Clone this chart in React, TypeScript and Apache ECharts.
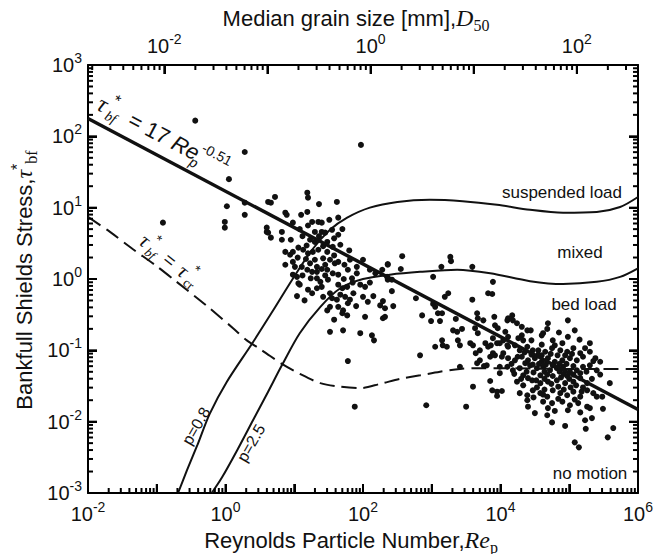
import { useEffect, useRef } from "react";
import * as echarts from "echarts";

// ---------- axis ranges ----------
const RE_MIN = 0.01;
const RE_MAX = 1e6;
const TAU_MIN = 1e-3;
const TAU_MAX = 1e3;
// log10(Re_p) that corresponds to D50 = 1 mm (top axis), and Re decades per D decade
const LOG_RE_AT_D_1MM = 2.11;
const RE_PER_D_DECADE = 1.5;

// tick label exponents
const xMajorExp = [-2, -1, 0, 1, 2, 3, 4, 5, 6];
const xLabelExp = [-2, 0, 2, 4, 6];
const yMajorExp = [-3, -2, -1, 0, 1, 2, 3];
const dMajorExp = [-2, -1, 0, 1, 2];
const dLabelExp = [-2, 0, 2];

// ---------- data (log10 Re_p, log10 tau*_bf) ----------
const observed: [number, number][] = [
  [-0.44, 2.22], [0.28, 1.78], [1.97, 1.88], [0.05, 1.4], [0.02, 1.02], [0.28, 1.07], [0.28, 0.9], [-0.01, 0.8], [-0.01, 0.72], [-0.91, 0.79],
  [0.72, 1.15], [0.62, 1.08], [0.66, 1.07], [1.19, 1.21], [1.2, 1.14], [1.36, 1.05], [1.62, 1.08], [1.19, 0.94], [0.87, 0.93], [0.89, 0.9],
  [0.98, 0.79], [0.6, 0.72], [0.6, 0.66], [0.62, 0.65], [0.66, 0.58], [0.82, 0.66], [0.82, 0.55], [1.08, 0.7], [1.26, 0.8], [1.35, 0.8],
  [1.4, 0.79], [1.51, 0.83], [1.64, 0.86], [1.3, 0.66], [1.4, 0.66], [1.45, 0.65], [1.55, 0.69], [1.64, 0.62], [1.23, 0.55], [1.3, 0.52],
  [1.48, 0.52], [0.87, 0.38], [0.94, 0.34], [0.98, 0.38], [1.06, 0.44], [1.13, 0.41], [1.2, 0.36], [1.27, 0.38], [1.35, 0.41], [1.48, 0.38],
  [1.56, 0.45], [1.67, 0.48], [0.87, 0.2], [0.98, 0.24], [1.01, 0.17], [1.11, 0.17], [1.23, 0.22], [1.3, 0.27], [1.33, 0.17], [1.42, 0.29],
  [1.52, 0.27], [1.59, 0.22], [1.64, 0.24], [1.81, 0.27], [1.91, 0.17], [2.0, 0.27], [0.98, 0.06], [1.04, 0.03], [1.19, 0.13], [1.26, 0.1],
  [1.33, 0.1], [1.4, 0.14], [1.48, 0.13], [1.56, 0.08], [1.64, 0.06], [1.78, 0.13], [1.84, 0.01], [1.91, 0.08], [2.1, 0.13], [2.18, 0.08],
  [2.28, 0.13], [2.35, 0.03], [2.36, 0.2], [1.06, -0.06], [1.08, -0.08], [1.33, 0.01], [1.38, -0.04], [1.4, -0.11], [1.49, -0.01], [1.64, -0.08],
  [1.7, -0.13], [1.77, -0.11], [1.96, -0.08], [2.03, -0.11], [1.2, -0.15], [1.26, -0.2], [1.33, -0.13], [1.04, -0.24], [1.55, -0.27], [1.62, -0.29],
  [1.67, -0.22], [1.74, -0.25], [1.81, -0.29], [1.86, -0.2], [2.0, -0.25], [2.07, -0.32], [2.15, -0.24], [2.25, -0.37], [2.32, -0.41], [1.64, -0.39],
  [1.71, -0.44], [1.78, -0.34], [1.52, -0.39], [1.48, -0.44], [1.7, -0.48], [1.77, -0.51], [2.03, -0.53], [2.29, -0.55], [1.52, -0.2], [1.52, -0.74],
  [1.71, -0.72], [1.78, -1.15],
  [1.12, 0.6], [1.18, 0.47], [1.36, 0.6], [1.42, 0.46], [1.58, 0.57], [1.7, 0.7], [1.05, 0.3], [1.17, 0.28], [1.45, 0.2], [1.58, 0.33],
  [1.73, 0.2], [1.12, 0.05], [1.24, 0.01], [1.45, 0.05], [1.72, 0.0], [1.85, -0.05], [1.15, -0.3], [1.42, -0.25], [1.9, -0.38], [1.58, -0.57],
  [1.2, 0.75], [1.1, 0.9], [0.95, 0.55], [1.8, 0.4], [2.1, -0.05],
  [2.57, 0.32], [2.36, 0.21], [2.55, 0.14], [3.27, 0.31], [3.28, 0.25], [3.14, 0.17], [3.59, 0.17], [2.36, -0.01], [2.42, -0.01], [3.02, 0.03],
  [3.89, -0.04], [2.29, -0.31], [2.42, -0.17], [2.44, -0.38], [2.32, -0.53], [2.77, -0.27], [3.19, -0.25], [3.24, -0.2], [3.82, -0.2], [3.88, -0.21],
  [3.59, -0.29], [3.02, -0.35], [3.05, -0.39], [2.86, -0.51], [2.99, -0.59], [3.09, -0.48], [3.15, -0.48], [3.12, -0.59], [3.35, -0.56], [3.66, -0.48],
  [3.67, -0.55], [3.75, -0.58], [3.91, -0.53], [4.1, -0.58], [3.31, -0.72], [3.37, -0.74], [3.44, -0.7], [3.63, -0.69], [3.67, -0.76], [3.38, -0.86],
  [3.15, -0.86], [3.16, -0.93], [3.22, -0.95], [3.41, -0.93], [3.56, -0.9], [3.6, -0.93], [3.78, -0.9], [3.82, -0.95], [3.86, -0.93], [3.7, -1.0],
  [3.05, -0.95], [2.83, -1.07], [2.13, -0.79], [2.16, -0.86], [3.85, -1.09], [3.89, -1.04], [3.99, -0.9], [4.04, -0.86], [4.1, -0.93], [4.04, -1.04],
  [3.41, -1.23], [3.8, -1.21], [3.99, -1.23],
  [1.96, -0.76], [3.64, -1.04], [3.7, -1.14], [3.66, -1.18], [3.76, -1.22], [3.6, -1.51], [3.85, -1.43], [3.88, -1.56], [3.95, -1.58], [3.95, -1.64],
  [1.88, -1.79], [2.92, -1.77], [3.5, -1.79],
  [4.98, -0.58], [4.69, -0.62], [4.17, -0.51], [4.11, -0.55], [4.18, -0.58], [4.24, -0.62], [4.31, -0.67], [4.39, -0.72], [4.44, -0.72], [4.62, -0.76],
  [4.6, -0.79], [5.08, -0.72], [3.92, -0.65], [3.96, -0.69], [4.07, -0.74], [4.11, -0.81], [4.31, -0.79], [4.33, -0.86], [4.26, -0.83], [4.76, -0.86],
  [4.79, -0.93], [4.98, -0.81], [3.89, -0.83], [3.95, -0.9], [4.11, -0.95], [4.21, -0.93], [4.28, -1.0], [4.39, -0.95], [4.47, -1.0], [4.55, -1.0],
  [4.65, -1.02], [4.75, -0.97], [4.87, -1.0], [4.97, -1.02], [5.06, -0.97], [5.16, -1.04], [5.23, -0.97], [5.3, -1.02], [5.38, -1.11], [5.45, -1.16],
  [5.2, -1.09], [5.11, -1.14], [5.01, -1.11],
  [3.92, -1.07], [4.02, -1.09], [4.11, -1.11], [4.21, -1.14], [4.31, -1.09], [4.4, -1.14], [4.5, -1.11], [4.6, -1.16], [4.69, -1.11], [4.79, -1.16],
  [4.9, -1.14], [4.43, -1.21], [4.53, -1.25], [4.62, -1.23], [4.72, -1.28], [4.82, -1.25], [4.91, -1.23], [5.01, -1.3], [5.11, -1.28], [4.1, -1.23],
  [4.18, -1.28], [4.28, -1.25], [3.99, -1.32], [4.33, -1.35], [4.58, -1.35], [4.76, -1.36], [4.97, -1.36], [5.2, -1.23], [5.3, -1.21], [5.4, -1.28],
  [4.24, -1.44], [4.33, -1.49], [4.46, -1.42], [4.58, -1.46], [4.69, -1.44], [4.82, -1.42], [4.94, -1.46], [5.06, -1.44], [5.16, -1.39], [5.26, -1.46],
  [4.02, -1.57], [4.28, -1.6], [4.39, -1.63], [4.47, -1.56], [4.58, -1.6], [4.68, -1.65], [4.76, -1.56], [4.87, -1.6], [4.97, -1.63], [5.06, -1.58],
  [5.16, -1.65], [5.26, -1.56], [5.35, -1.6], [5.4, -1.65], [4.39, -1.7], [4.62, -1.72], [4.75, -1.74], [4.9, -1.72], [5.01, -1.77], [5.13, -1.74],
  [5.26, -1.79], [4.4, -1.79], [4.5, -1.88], [4.69, -1.81], [4.79, -1.85], [4.98, -1.84], [5.16, -1.87], [5.3, -1.81], [4.68, -1.91], [5.33, -1.95],
  [5.23, -1.98], [5.49, -1.82], [4.75, -2.01], [4.94, -2.06], [5.24, -2.1], [5.64, -2.09], [5.56, -2.22], [5.08, -2.29], [5.14, -2.36],
  [5.59, -1.46], [5.48, -1.65],
  [4.36, -1.18], [4.47, -1.2], [4.56, -1.19], [4.66, -1.2], [4.76, -1.21], [4.86, -1.19], [4.96, -1.19], [5.06, -1.22], [4.38, -1.3], [4.48, -1.31],
  [4.64, -1.3], [4.68, -1.34], [4.86, -1.3], [4.92, -1.33], [5.06, -1.34], [5.16, -1.32], [4.4, -1.39], [4.52, -1.42], [4.64, -1.4], [4.74, -1.47],
  [4.88, -1.38], [5.0, -1.4], [5.1, -1.49], [4.3, -1.4], [4.53, -1.52], [4.64, -1.55], [4.84, -1.51], [4.92, -1.55], [5.02, -1.52], [5.2, -1.52],
  [4.45, -1.06], [4.55, -1.06], [4.6, -1.07], [4.73, -1.05], [4.83, -1.07], [4.94, -1.07], [5.04, -1.05], [4.35, -1.03], [4.25, -1.09], [4.16, -1.19],
  [4.2, -1.33], [4.48, -1.66], [4.62, -1.62], [4.84, -1.68], [5.08, -1.69], [5.18, -1.58], [5.33, -1.4], [5.45, -1.34], [5.25, -1.3], [5.35, -1.15],
  [4.9, -0.9], [4.6, -0.92], [4.45, -0.86], [4.68, -0.7], [4.85, -0.75], [5.15, -0.85], [5.3, -0.9],
];

// fit line tau*_bf = 17 Re_p^-0.51 (end points: Re_p, tau)
const fitLineRe = [0.01, 1e6];
const fitLineTau = [178, 0.0148];

// critical Shields stress curve (dashed), log10 values
const criticalCurve: [number, number][] = [
  [-2.0, 0.87], [-1.68, 0.66], [-1.35, 0.42], [-1.03, 0.2], [-0.71, -0.04], [-0.41, -0.27], [-0.23, -0.41], [0.11, -0.69],
  [0.31, -0.86], [0.5, -0.98], [0.65, -1.08], [0.82, -1.19], [1.08, -1.33], [1.38, -1.46], [1.67, -1.51], [1.96, -1.53],
  [2.25, -1.47], [2.54, -1.4], [2.83, -1.35], [3.12, -1.3], [3.41, -1.26], [3.7, -1.25], [3.99, -1.25], [4.87, -1.26], [6.0, -1.26],
];

// threshold p = 0.8 (suspended load boundary), log10 values
const curveP08: [number, number][] = [
  [-0.69, -3.0], [-0.56, -2.68], [-0.41, -2.33], [-0.23, -1.89], [0.02, -1.44], [0.39, -0.9], [0.68, -0.46], [0.97, -0.01],
  [1.26, 0.41], [1.52, 0.69], [1.77, 0.86], [2.1, 1.0], [2.5, 1.08], [2.97, 1.11], [3.45, 1.09], [3.95, 1.04], [4.43, 0.97],
  [4.91, 0.93], [5.4, 0.94], [5.74, 1.01], [6.0, 1.15],
];

// threshold p = 2.5 (bed load boundary), log10 values
const curveP25: [number, number][] = [
  [-0.2, -3.0], [-0.05, -2.78], [0.17, -2.4], [0.4, -1.98], [0.62, -1.58], [0.82, -1.21], [1.08, -0.76], [1.38, -0.39],
  [1.67, -0.13], [2.0, 0.0], [2.39, 0.06], [2.83, 0.1], [3.37, 0.13], [3.85, 0.08], [4.43, -0.03], [4.91, -0.07],
  [5.4, -0.04], [5.74, 0.03], [6.0, 0.15],
];

const SANS = "'Liberation Sans', Arial, Helvetica, sans-serif";
const SERIF = "'Liberation Serif', 'DejaVu Serif', 'Times New Roman', serif";
const INK = "#000000";
const MAJOR_LEN = 9;
const MINOR_LEN = 5;
const TICK_W = 2;

const toVal = (pts: [number, number][]) => pts.map(([a, b]) => [Math.pow(10, a), Math.pow(10, b)]);

function minorTicks(lo: number, hi: number): number[] {
  const out: number[] = [];
  for (let n = Math.floor(lo) - 1; n <= Math.ceil(hi); n++) {
    for (let k = 2; k <= 9; k++) {
      const v = n + Math.log10(k);
      if (v > lo + 1e-9 && v < hi - 1e-9) out.push(v);
    }
  }
  return out;
}

const tickList = (major: number[], lo: number, hi: number): [number, number][] => [
  ...major.map((v) => [v, MAJOR_LEN] as [number, number]),
  ...minorTicks(lo, hi).map((v) => [v, MINOR_LEN] as [number, number]),
];

const tickRich = {
  b: { fontSize: 20, fontFamily: SANS, color: "#111", lineHeight: 28 },
  e: { fontSize: 14, fontFamily: SANS, color: "#111", lineHeight: 14, verticalAlign: "top" },
};
const expFormatter = (v: number) => `{b|10}{e|${Math.round(v)}}`;

function labelAxis(position: string, min: number, max: number, majors: number[], labels: number[] | null, margin: number) {
  return {
    type: "value",
    position,
    min,
    max,
    splitLine: { show: false },
    axisLine: { show: true, onZero: false, lineStyle: { color: INK, width: 2 } },
    axisTick: {
      show: true,
      inside: true,
      length: MAJOR_LEN,
      customValues: majors,
      lineStyle: { color: INK, width: TICK_W },
    },
    axisLabel: labels
      ? { show: true, customValues: labels, formatter: expFormatter, rich: tickRich, margin }
      : { show: false },
  };
}

// tick marks (major + minor) drawn as thin rectangles placed by the log axes
function tickMarks(name: string, items: any[]) {
  return {
    type: "scatter",
    name,
    data: items,
    symbol: "rect",
    clip: false,
    itemStyle: { color: INK, opacity: 1 },
    z: 6,
  };
}

function buildOption() {
  const dMin = (-2 - LOG_RE_AT_D_1MM) / RE_PER_D_DECADE;
  const dMax = (6 - LOG_RE_AT_D_1MM) / RE_PER_D_DECADE;

  const xAxis: any[] = [
    { type: "log", logBase: 10, min: RE_MIN, max: RE_MAX, show: false, splitLine: { show: false } },
    labelAxis("bottom", -2, 6, xMajorExp, xLabelExp, 7),
    labelAxis("top", dMin, dMax, dMajorExp, dLabelExp, 5),
  ];
  const yAxis: any[] = [
    { type: "log", logBase: 10, min: TAU_MIN, max: TAU_MAX, show: false, splitLine: { show: false } },
    labelAxis("left", -3, 3, yMajorExp, yMajorExp, 6),
    labelAxis("right", -3, 3, yMajorExp, null, 0),
  ];

  const bottomTicks = tickList(xMajorExp, -2, 6).map(([v, len]) => ({
    value: [Math.pow(10, v), TAU_MIN],
    symbolSize: [TICK_W, len],
    symbolOffset: [0, -len / 2],
  }));
  const topTicks = tickList(dMajorExp, dMin, dMax).map(([d, len]) => ({
    value: [Math.pow(10, LOG_RE_AT_D_1MM + RE_PER_D_DECADE * d), TAU_MAX],
    symbolSize: [TICK_W, len],
    symbolOffset: [0, len / 2],
  }));
  const leftTicks = tickList(yMajorExp, -3, 3).map(([v, len]) => ({
    value: [RE_MIN, Math.pow(10, v)],
    symbolSize: [len, TICK_W],
    symbolOffset: [len / 2, 0],
  }));
  const rightTicks = tickList(yMajorExp, -3, 3).map(([v, len]) => ({
    value: [RE_MAX, Math.pow(10, v)],
    symbolSize: [len, TICK_W],
    symbolOffset: [-len / 2, 0],
  }));

  const txt = (x: number, y: number, text: string, size: number, extra: any = {}) => ({
    type: "text",
    x,
    y,
    style: {
      text,
      fontSize: size,
      fontFamily: extra.family ?? SANS,
      fontStyle: extra.italic ? "italic" : "normal",
      fill: "#111",
      align: extra.align ?? "left",
      textAlign: extra.align ?? "left",
      verticalAlign: "middle",
      textVerticalAlign: "middle",
      rich: extra.rich,
    },
  });

  const titleRich = {
    a: { fontSize: 22, fontFamily: SANS, color: "#111", lineHeight: 30 },
    m: { fontSize: 24, fontFamily: SERIF, fontStyle: "italic", color: "#111", lineHeight: 30 },
    sub: { fontSize: 16, fontFamily: SERIF, color: "#111", lineHeight: 14, verticalAlign: "bottom" },
    sup: { fontSize: 16, fontFamily: SANS, color: "#111", lineHeight: 14, verticalAlign: "top" },
  };

  const graphic: any[] = [
    txt(356, 18, "{a|Median grain size [mm],}{m|D}{sub|50}", 22, { align: "center", rich: titleRich }),
    txt(351, 540, "{a|Reynolds Particle Number,}{m|Re}{sub|p}", 22, { align: "center", rich: titleRich }),
    {
      type: "group",
      x: 24,
      y: 280,
      rotation: Math.PI / 2,
      children: [txt(0, 0, "{a|Bankfull Shields Stress,}{m|τ}{sup|*}{sub|bf}", 22, { align: "center", rich: titleRich })],
    },
    {
      type: "group",
      x: 99,
      y: 102,
      rotation: -0.487,
      children: [
        txt(0, 0, "τ", 24, { family: SERIF, italic: true }),
        txt(12, -10, "*", 16),
        txt(12, 8, "bf", 14, { family: SERIF, italic: true }),
        txt(35, 0, "= 17", 22),
        txt(84, 0, "Re", 22, { italic: true }),
        txt(108, 9, "p", 14, { italic: true }),
        txt(113, -9, "-0.51", 14),
      ],
    },
    {
      type: "group",
      x: 142,
      y: 238,
      rotation: -0.67,
      children: [
        txt(0, 0, "τ", 21, { family: SERIF, italic: true }),
        txt(11, -9, "*", 14),
        txt(11, 7, "bf", 13, { family: SERIF, italic: true }),
        txt(30, 0, "=", 19),
        txt(49, 0, "τ", 21, { family: SERIF, italic: true }),
        txt(60, -9, "*", 14),
        txt(60, 7, "cr", 13, { family: SERIF }),
      ],
    },
    { type: "group", x: 196, y: 426, rotation: 1.05, children: [txt(0, 0, "p=0.8", 16, { align: "center" })] },
    { type: "group", x: 251, y: 443, rotation: 1.05, children: [txt(0, 0, "p=2.5", 16, { align: "center" })] },
    txt(622, 192, "suspended load", 17, { align: "right" }),
    txt(580, 252, "mixed", 17, { align: "center" }),
    txt(584, 304, "bed load", 17, { align: "center" }),
    txt(590, 473, "no motion", 17, { align: "center" }),
  ];

  return {
    animation: false,
    backgroundColor: "#ffffff",
    grid: { left: 88, right: 16, top: 65, bottom: 61, containLabel: false, outerBoundsMode: "none" },
    xAxis,
    yAxis,
    series: [
      {
        type: "scatter",
        name: "rivers",
        data: toVal(observed),
        symbol: "circle",
        symbolSize: 6,
        itemStyle: { color: "#111", opacity: 1 },
        z: 3,
      },
      {
        type: "line",
        name: "fit",
        data: fitLineRe.map((r, i) => [r, fitLineTau[i]]),
        symbol: "none",
        lineStyle: { color: "#111", width: 3.5 },
        z: 4,
      },
      {
        type: "line",
        name: "critical",
        data: toVal(criticalCurve),
        symbol: "none",
        smooth: 0.3,
        lineStyle: { color: "#111", width: 2, type: [15, 7] },
        z: 4,
      },
      {
        type: "line",
        name: "p=0.8",
        data: toVal(curveP08),
        symbol: "none",
        smooth: 0.3,
        lineStyle: { color: "#111", width: 2 },
        z: 4,
      },
      {
        type: "line",
        name: "p=2.5",
        data: toVal(curveP25),
        symbol: "none",
        smooth: 0.3,
        lineStyle: { color: "#111", width: 2 },
        z: 4,
      },
      tickMarks("ticks-bottom", bottomTicks),
      tickMarks("ticks-top", topTicks),
      tickMarks("ticks-left", leftTicks),
      tickMarks("ticks-right", rightTicks),
    ],
    graphic,
  };
}

export default function App() {
  const ref = useRef<HTMLDivElement | null>(null);
  useEffect(() => {
    if (!ref.current) return;
    const chart = echarts.init(ref.current, undefined, { renderer: "svg" });
    chart.setOption(buildOption() as any);
    return () => chart.dispose();
  }, []);
  return (
    <div
      ref={ref}
      style={{ position: "absolute", left: 0, top: 0, width: 654, height: 554, background: "#fff" }}
    />
  );
}
